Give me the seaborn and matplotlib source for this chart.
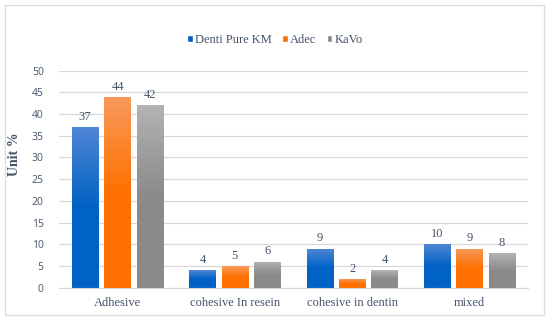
import pandas as pd
import numpy as np
import matplotlib.pyplot as plt
import matplotlib.colors as mcolors
from matplotlib.patches import Patch
import seaborn as sns

categories = ['Adhesive', 'cohesive In resein', 'cohesive in dentin', 'mixed']
brands = ['Denti Pure KM', 'Adec', 'KaVo']
denti_pure = [37, 4, 9, 10]
adec = [44, 5, 2, 9]
kavo = [42, 6, 4, 8]

df = pd.DataFrame({
    'category': categories * 3,
    'brand': [brands[0]] * 4 + [brands[1]] * 4 + [brands[2]] * 4,
    'value': denti_pure + adec + kavo,
})

# gradient ends (top, bottom) per series
grad = {
    'Denti Pure KM': ('#4F86D6', '#0062C4'),
    'Adec': ('#F8995A', '#FF7000'),
    'KaVo': ('#B3B3B3', '#8A8A8A'),
}
palette = {b: grad[b][1] for b in brands}
text_col = '#44546A'

sns.set_style('white')
plt.rcParams['font.family'] = ['Liberation Serif', 'DejaVu Serif']

fig = plt.figure(figsize=(5.5, 3.21), dpi=100)
ax = fig.add_axes([59 / 550, 0.104, 469 / 550, 0.6757])

sns.barplot(data=df, x='category', y='value', hue='brand', order=categories,
            hue_order=brands, palette=palette, width=0.83, gap=0.19,
            ax=ax, legend=True)

# gradient fill + value labels
for cont, b in zip(ax.containers, brands):
    top_c, bot_c = grad[b]
    cmap = mcolors.LinearSegmentedColormap.from_list(b, [bot_c, bot_c, top_c])
    g = np.linspace(0, 1, 64).reshape(-1, 1)
    for p in cont.patches:
        x0, y0 = p.get_x(), p.get_y()
        w, h = p.get_width(), p.get_height()
        p.set_facecolor('none')
        p.set_edgecolor('none')
        im = ax.imshow(g, cmap=cmap, origin='lower', aspect='auto',
                       extent=[x0, x0 + w, y0, y0 + h], zorder=2)
        im.set_clip_path(p)
    ax.bar_label(cont, padding=3, fontsize=9, color=text_col)

ax.set_xlim(-0.5, 3.5)
ax.set_ylim(0, 50)
ax.set_yticks(range(0, 51, 5))
ax.yaxis.grid(True, color='#D9D9D9', linewidth=0.9)
ax.set_axisbelow(True)
for s in ['top', 'right', 'left']:
    ax.spines[s].set_visible(False)
ax.spines['bottom'].set_color('#D9D9D9')
ax.tick_params(axis='both', length=0, colors=text_col)
ax.tick_params(axis='x', labelsize=9, pad=7)
ax.tick_params(axis='y', pad=11)
for t in ax.get_yticklabels():
    t.set_family(['Open Sans', 'DejaVu Sans'])
    t.set_fontsize(7.5)
ax.set_xlabel('')
ax.set_ylabel('')
fig.text(15 / 550, 0.52, 'Unit %', rotation=90, ha='center', va='center',
         fontsize=10, fontweight='bold', color=text_col)

ax.legend_.remove()
handles = [Patch(facecolor=grad[b][1]) for b in brands]
fig.legend(handles, brands, loc='center', bbox_to_anchor=(0.5, 0.876), ncol=3,
           frameon=False, fontsize=9, handlelength=0.45, handleheight=0.45,
           handletextpad=0.2, columnspacing=0.8, labelcolor=text_col)

# outer frame
fig.add_artist(plt.Rectangle((5 / 550, 0.0187), 539 / 550, 0.966, transform=fig.transFigure,
                             fill=False, edgecolor='#D9DEE6', linewidth=1))

fig.savefig('out.png', dpi=100)
